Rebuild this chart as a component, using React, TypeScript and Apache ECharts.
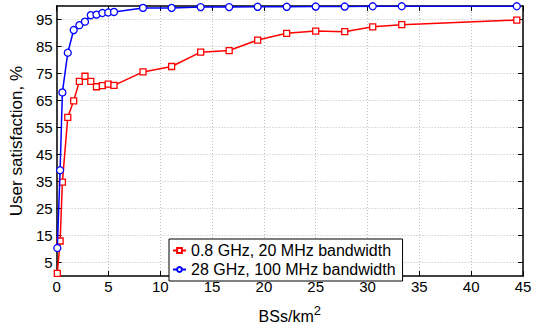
import React, { useEffect, useRef } from "react";
import * as echarts from "echarts";

// BS density (BSs/km^2)
const densities = [0.07, 0.34, 0.56, 1.08, 1.65, 2.2, 2.74, 3.3, 3.85, 4.42, 4.98, 5.54, 8.34, 11.1, 13.9, 16.65, 19.4, 22.2, 25.0, 27.8, 30.5, 33.3, 44.4];
// User satisfaction (%) for 0.8 GHz, 20 MHz bandwidth
const sat08 = [1, 13, 34.8, 58.8, 64.9, 72.1, 74, 72.1, 70.1, 70.5, 71.1, 70.6, 75.6, 77.6, 82.9, 83.5, 87.4, 89.9, 90.7, 90.5, 92.3, 93.1, 94.8];
// User satisfaction (%) for 28 GHz, 100 MHz bandwidth
const sat28 = [10.4, 39.2, 68, 82.7, 91.1, 92.9, 94.2, 96.6, 96.8, 97.4, 97.6, 97.8, 99.3, 99.3, 99.6, 99.6, 99.7, 99.7, 99.8, 99.8, 99.9, 99.9, 99.9];

const seriesNames = ["0.8 GHz, 20 MHz bandwidth", "28 GHz, 100 MHz bandwidth"];
const yTickValues = [5, 15, 25, 35, 45, 55, 65, 75, 85, 95];
const xTickValues = [0, 5, 10, 15, 20, 25, 30, 35, 40, 45];

const FONT = "'Liberation Sans', Arial, Helvetica, sans-serif";

export default function App() {
  const ref = useRef<HTMLDivElement>(null);
  useEffect(() => {
    if (!ref.current) return;
    const chart = echarts.init(ref.current, null, { renderer: "svg" });
    const frameLine = { show: true, onZero: false, lineStyle: { color: "#000", width: 1.5 } };
    const tick = { show: true, inside: true, length: 5, lineStyle: { color: "#000", width: 1 } };
    const grid = { show: true, lineStyle: { color: "#bdbdbd", type: [1, 2], width: 1 } };
    const pairs = (ys: number[]) => densities.map((x, i) => [x, ys[i]]);
    chart.setOption({
      animation: false,
      backgroundColor: "#fff",
      textStyle: { fontFamily: FONT },
      grid: { left: 52, right: 15, top: 6, bottom: 46, containLabel: false },
      legend: {
        left: 169,
        top: 239,
        orient: "vertical",
        backgroundColor: "#fff",
        borderColor: "#000",
        borderWidth: 1,
        borderRadius: 0,
        padding: [3, 7, 3, 3],
        itemGap: 2,
        itemWidth: 13,
        itemHeight: 6,
        textStyle: { fontSize: 16, lineHeight: 17, color: "#000", fontFamily: FONT },
        data: seriesNames,
      },
      xAxis: [
        {
          type: "value",
          min: 0,
          max: 45,
          interval: 5,
          position: "bottom",
          axisLine: frameLine,
          axisTick: { ...tick, customValues: xTickValues },
          axisLabel: { color: "#000", fontSize: 15, margin: 3, fontFamily: FONT, customValues: xTickValues },
          splitLine: grid,
          name: "{a|BSs/km}{b|2}",
          nameLocation: "middle",
          nameGap: 12,
          nameTextStyle: {
            color: "#000",
            fontFamily: FONT,
            rich: {
              a: { fontSize: 16, lineHeight: 16, padding: [9, 0, 0, 0], color: "#000", fontFamily: FONT },
              b: { fontSize: 13, lineHeight: 13, verticalAlign: "top", color: "#000", fontFamily: FONT },
            },
          },
        },
        {
          type: "value",
          min: 0,
          max: 45,
          interval: 5,
          position: "top",
          axisLine: frameLine,
          axisTick: tick,
          axisLabel: { show: false },
          splitLine: { show: false },
        },
      ],
      yAxis: [
        {
          type: "value",
          min: 0,
          max: 100,
          position: "left",
          axisLine: frameLine,
          axisTick: { ...tick, customValues: yTickValues },
          axisLabel: { color: "#000", fontSize: 15, margin: 4, fontFamily: FONT, customValues: yTickValues },
          splitLine: grid,
          name: "User satisfaction, %",
          nameLocation: "middle",
          nameGap: 19,
          nameTextStyle: { color: "#000", fontSize: 17, fontFamily: FONT },
        },
        {
          type: "value",
          min: 0,
          max: 100,
          position: "right",
          axisLine: frameLine,
          axisTick: { ...tick, customValues: yTickValues },
          axisLabel: { show: false, customValues: yTickValues },
          splitLine: { show: false },
        },
      ],
      series: [
        {
          name: seriesNames[0],
          type: "line",
          xAxisIndex: 0,
          yAxisIndex: 0,
          data: pairs(sat08),
          color: "#ff0000",
          lineStyle: { color: "#ff0000", width: 1.5 },
          symbol: "rect",
          symbolSize: 6,
          showAllSymbol: true,
          itemStyle: { color: "#fff", borderColor: "#ff0000", borderWidth: 1.3 },
          z: 3,
        },
        {
          name: seriesNames[1],
          type: "line",
          xAxisIndex: 0,
          yAxisIndex: 0,
          data: pairs(sat28),
          color: "#0000ff",
          lineStyle: { color: "#0000ff", width: 1.5 },
          symbol: "circle",
          symbolSize: 7,
          showAllSymbol: true,
          itemStyle: { color: "#fff", borderColor: "#0000ff", borderWidth: 1.3 },
          z: 4,
        },
      ],
    });
    return () => chart.dispose();
  }, []);
  return (
    <div
      ref={ref}
      style={{ position: "fixed", left: 0, top: 0, width: 538, height: 329, background: "#fff" }}
    />
  );
}
